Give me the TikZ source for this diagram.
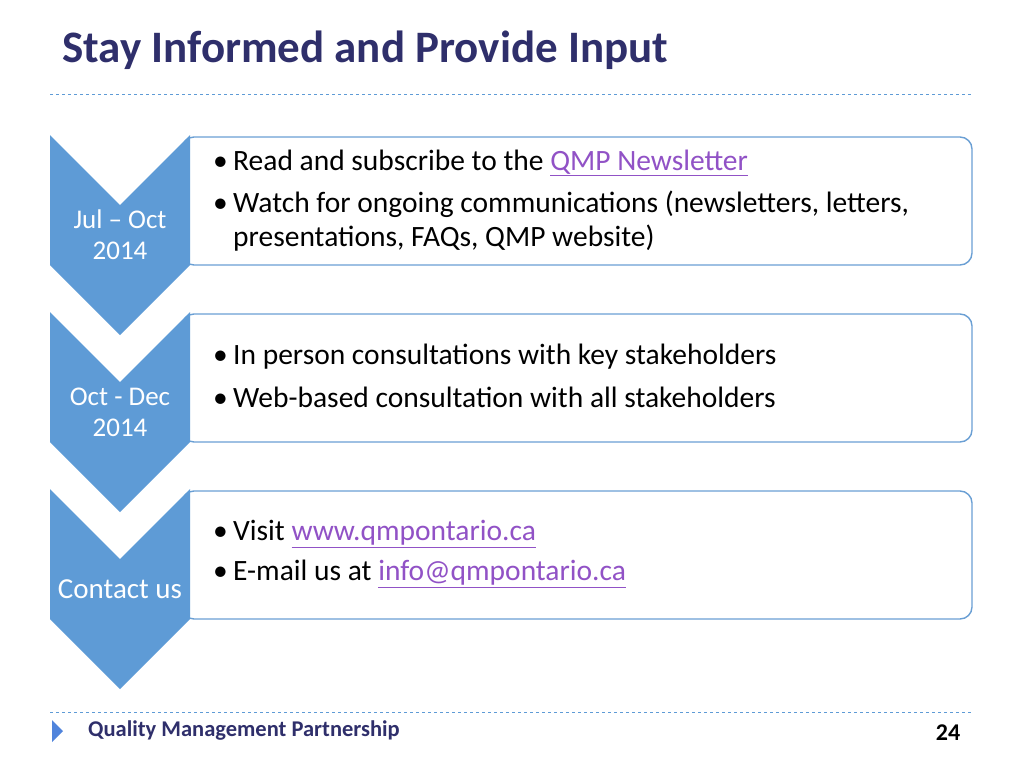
\documentclass[tikz,border=0pt]{standalone}
\usepackage{fontspec}
\setmainfont{Carlito}
\usepackage{xcolor}
\usetikzlibrary{positioning}
\definecolor{navy}{HTML}{2F2F6B}
\definecolor{chev}{HTML}{5E9BD6}
\definecolor{boxline}{HTML}{6A9FD4}
\definecolor{linkc}{HTML}{9152C6}
\newcommand{\lnk}[1]{\textcolor{linkc}{\underline{#1}}}
\newcommand{\bul}{\makebox[20pt][l]{•}}
\tikzset{
  card/.style={draw=boxline, line width=1.4pt, fill=white, rounded corners=12pt},
  chevron/.style={fill=chev, draw=none},
  item/.style={anchor=west, font=\fontsize{29.5}{34}\selectfont, inner sep=0pt},
  stage/.style={text=white, align=center, font=\fontsize{27}{31}\selectfont}
}
\begin{document}
\begin{tikzpicture}[x=1pt, y=-1pt]
\useasboundingbox (0,0) rectangle (1024,768);
\node[anchor=west, inner sep=0pt, text=navy, font=\fontsize{45}{50}\selectfont\bfseries] (title) at (62,50) {Stay Informed and Provide Input};
\draw[chev, dashed, line width=0.8pt] (50,94) -- (972,94);
% the three stages
\foreach \t/\lab in {135/{Jul -- Oct\\2014}, 312/{Oct - Dec\\2014}, 489/{\fontsize{29}{33}\selectfont Contact us}} {
  \draw[card] (182,\t+2) rectangle (972,\t+130);
  \fill[chevron] (50,\t) -- (120,\t+70) -- (190,\t) -- (190,\t+130) -- (120,\t+200) -- (50,\t+130) -- cycle;
  \node[stage] at (120,\t+100) {\lab};
}
\node[item] (a1) at (213,163) {\bul Read and subscribe to the \lnk{QMP Newsletter}};
\node[item] (a2) at (213,204) {\bul Watch for ongoing communications (newsletters, letters,};
\node[item] (a3) at (233,238) {presentations, FAQs, QMP website)};
\node[item] (b1) at (213,357) {\bul In person consultations with key stakeholders};
\node[item] (b2) at (213,397) {\bul Web-based consultation with all stakeholders};
\node[item] (c1) at (213,534) {\bul Visit \lnk{www.qmpontario.ca}};
\node[item] (c2) at (213,574) {\bul E-mail us at \lnk{info@qmpontario.ca}};
% footer
\draw[chev, dashed, line width=0.8pt] (50,712) -- (972,712);
\fill[chev!85!blue] (52,720) -- (63,731) -- (52,742) -- cycle;
\node[anchor=west, inner sep=0pt, text=navy, font=\fontsize{22.5}{26}\selectfont\bfseries] (foot) at (88,731) {Quality Management Partnership};
\node[text=black, font=\fontsize{24}{28}\selectfont\bfseries] (page) at (948,733) {24};
\end{tikzpicture}
\end{document}
